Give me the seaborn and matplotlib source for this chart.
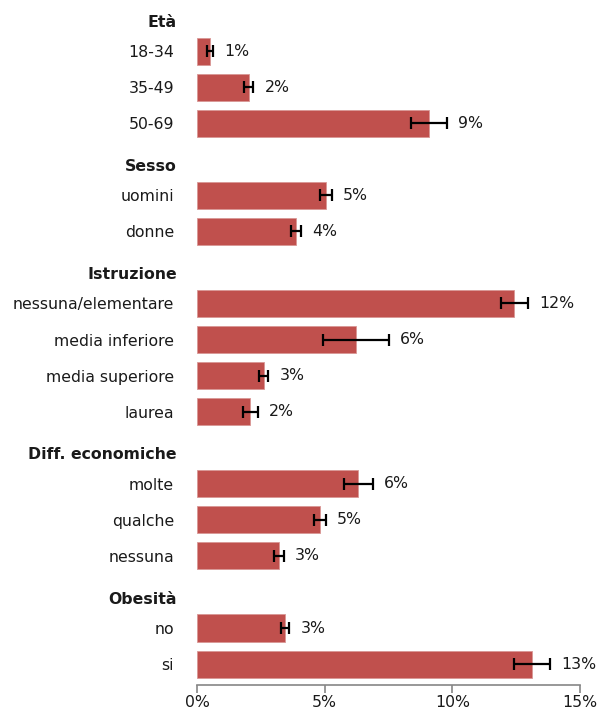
import matplotlib
matplotlib.use('Agg')
import matplotlib.pyplot as plt
import matplotlib.transforms as mtransforms
from matplotlib.ticker import FuncFormatter
import seaborn as sns
import pandas as pd

# gruppi e categorie (le intestazioni non hanno barra)
headers = ['Età', 'Sesso', 'Istruzione', 'Diff. economiche', 'Obesità']
groups = {
    'Età': ['18-34', '35-49', '50-69'],
    'Sesso': ['uomini', 'donne'],
    'Istruzione': ['nessuna/elementare', 'media inferiore', 'media superiore', 'laurea'],
    'Diff. economiche': ['molte', 'qualche', 'nessuna'],
    'Obesità': ['no', 'si'],
}
categories = ['18-34', '35-49', '50-69', 'uomini', 'donne',
              'nessuna/elementare', 'media inferiore', 'media superiore', 'laurea',
              'molte', 'qualche', 'nessuna', 'no', 'si']
values = [0.52, 2.02, 9.10, 5.05, 3.87, 12.42, 6.23, 2.61, 2.09, 6.32, 4.81, 3.22, 3.45, 13.11]
errors = [0.12, 0.19, 0.70, 0.23, 0.19, 0.53, 1.29, 0.18, 0.30, 0.58, 0.24, 0.19, 0.16, 0.71]
labels = ['1%', '2%', '9%', '5%', '4%', '12%', '6%', '3%', '2%', '6%', '5%', '3%', '3%', '13%']

df = pd.DataFrame({'cat': categories, 'val': values, 'err': errors, 'lab': labels})

order = []
for h in headers:
    order.append(h)
    order.extend(groups[h])

sns.set_style('white')
plt.rcParams['font.family'] = ['DejaVu Sans']
FS = 11.3

fig = plt.figure(figsize=(5.97, 7.13), dpi=100)
ax = fig.add_axes([0.33, 0.0393, 0.6415, 0.9607])

sns.barplot(data=df, x='val', y='cat', order=order, color='#C0504D',
            saturation=1, width=0.75, edgecolor='#D99795', linewidth=0.6, ax=ax)

pos = {c: i for i, c in enumerate(order)}
ys = [pos[c] for c in df['cat']]
ax.errorbar(df['val'], ys, xerr=df['err'], fmt='none', ecolor='black',
            elinewidth=1.6, capsize=4.5, capthick=1.6)

for y, v, e, lab in zip(ys, df['val'], df['err'], df['lab']):
    ax.annotate(lab, (v + e, y), xytext=(8, 0), textcoords='offset points',
                va='center', ha='left', fontsize=FS, color='#1a1a1a')

ax.set_xlim(0, 15)
ax.set_ylim(18.58, -0.416)
ax.set_xticks([0, 5, 10, 15])
ax.xaxis.set_major_formatter(FuncFormatter(lambda x, _: f'{x:.0f}%'))
ax.set_xlabel('')
ax.set_ylabel('')

for s in ['top', 'right', 'left']:
    ax.spines[s].set_visible(False)
ax.spines['bottom'].set_color('#868686')
ax.spines['bottom'].set_linewidth(1.2)
ax.tick_params(axis='x', bottom=True, length=5.5, width=1.2, color='#868686',
               labelsize=FS, labelcolor='#1a1a1a', pad=2)
ax.tick_params(axis='y', left=False, labelsize=FS, labelcolor='#1a1a1a', pad=13)

ax.set_yticks(range(len(order)))
ax.set_yticklabels(order)
shift = mtransforms.ScaledTranslation(2 / 72, -4 / 72, fig.dpi_scale_trans)
for t in ax.get_yticklabels():
    if t.get_text() in headers:
        t.set_fontweight('bold')
        t.set_transform(t.get_transform() + shift)

fig.savefig('out.png', dpi=100)
